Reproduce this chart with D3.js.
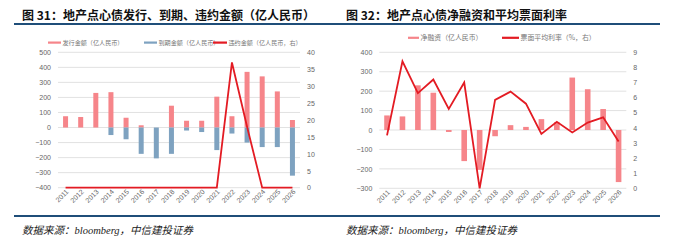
<!DOCTYPE html>
<html>
<head>
<meta charset="utf-8">
<script src="https://cdn.jsdelivr.net/npm/d3@7"></script>
<style>
  html, body { margin: 0; padding: 0; background: #fff; }
  svg { display: block; font-family: "Noto Sans CJK SC", "Noto Sans", sans-serif; }
  .tick text { fill: #666; font-size: 7px; font-family: "Liberation Sans", "Noto Sans", sans-serif; }
</style>
</head>
<body>
<svg id="chart" width="677" height="241"></svg>
<script>
// categories
var years = ["2011", "2012", "2013", "2014", "2015", "2016", "2017", "2018",
  "2019", "2020", "2021", "2022", "2023", "2024", "2025", "2026"];

// fig 31 (亿人民币; default on right axis)
var issuance = [75, 70, 230, 235, 65, 15, 0, 145, 45, 45, 205, 75, 370, 340, 240, 50];
var maturity = [0, 0, 0, -50, -78, -175, -205, -175, -20, -30, -150, -40, -100, -130, -130, -320];
var defaults = [0, 0, 0, 0, 0, 0, 0, 0, 0, 0, 0, 37, 18, 0, 0, 0];
var leftTicks31 = [-400, -300, -200, -100, 0, 100, 200, 300, 400, 500];
var rightTicks31 = [0, 5, 10, 15, 20, 25, 30, 35, 40];

// fig 32 (net financing, coupon rate % on right axis)
var netFinancing = [75, 70, 230, 192, -10, -160, -205, -32, 25, 16, 56, 40, 270, 210, 108, -268];
var couponRate = [3.5, 8.4, 6.3, 7.2, 5.25, 7.0, 0, 5.85, 6.4, 5.6, 3.6, 4.4, 3.7, 4.35, 4.7, 3.1];
var leftTicks32 = [-300, -200, -100, 0, 100, 200, 300, 400];
var rightTicks32 = [0, 1, 2, 3, 4, 5, 6, 7, 8, 9];

var PINK = "#f6858a", BLUE = "#7ea2c0", RED = "#e31b23", NAVY = "#1f4e79";

var svg = d3.select("#chart");

// header / footer rules
[24, 216].forEach(function (yy) {
  svg.append("line").attr("x1", 14).attr("x2", 660).attr("y1", yy).attr("y2", yy)
    .attr("stroke", NAVY).attr("stroke-width", 2);
});

function title(x, txt) {
  svg.append("text").attr("x", x).attr("y", 19.5)
    .attr("font-size", 12).attr("font-weight", 700).attr("fill", "#111").text(txt);
}
function source(x) {
  svg.append("text").attr("x", x).attr("y", 234)
    .attr("font-size", 10.5).attr("font-style", "italic").attr("fill", "#222")
    .style("font-family", "'Liberation Serif', 'Noto Sans CJK SC', serif")
    .text("数据来源：bloomberg，中信建投证券");
}

function frame(g, x, yL, yR, lt, rt) {
  var x0 = x.range()[0], x1 = x.range()[1];
  g.selectAll("line.grid").data(lt).join("line").attr("class", "grid")
    .attr("x1", x0).attr("x2", x1)
    .attr("y1", function (d) { return yL(d); }).attr("y2", function (d) { return yL(d); })
    .attr("stroke", "#d9d9d9").attr("stroke-width", 0.8);

  g.append("g").attr("transform", "translate(" + x0 + ",0)")
    .call(d3.axisLeft(yL).tickValues(lt).tickSize(0).tickPadding(7))
    .call(function (a) { a.select(".domain").remove(); });
  g.append("g").attr("transform", "translate(" + x1 + ",0)")
    .call(d3.axisRight(yR).tickValues(rt).tickSize(0).tickPadding(7))
    .call(function (a) { a.select(".domain").remove(); });

  g.append("g").attr("transform", "translate(0," + (yL.range()[0] + 3) + ")")
    .call(d3.axisBottom(x).tickSize(0).tickPadding(0))
    .call(function (a) { a.select(".domain").remove(); })
    .selectAll("text")
    .attr("text-anchor", "end").attr("dy", "0.3em")
    .attr("transform", "translate(2,0) rotate(-45)");
}

function legend(g, items, y, fs) {
  items.forEach(function (it) {
    g.append("rect").attr("x", it.x).attr("y", y - 1).attr("width", it.w).attr("height", 2.2)
      .attr("fill", it.color);
    g.append("text").attr("x", it.x + it.w + 1.5).attr("y", y).attr("dy", "0.35em")
      .attr("font-size", fs).attr("fill", "#777").text(it.label);
  });
}

// ---- Figure 31 ----
title(22, "图 31：地产点心债发行、到期、违约金额（亿人民币）");
source(22);
var g1 = svg.append("g");
var x1 = d3.scaleBand().domain(years).range([58, 300]);
var y1 = d3.scaleLinear().domain([-400, 500]).range([187.7, 52.3]);
var y1r = d3.scaleLinear().domain([0, 40]).range([187.7, 52.3]);
frame(g1, x1, y1, y1r, leftTicks31, rightTicks31);
var bw1 = 5;

g1.selectAll("rect.iss").data(issuance).join("rect").attr("class", "iss")
  .attr("x", function (d, i) { return x1(years[i]) + x1.bandwidth() / 2 - bw1 / 2; })
  .attr("width", bw1)
  .attr("y", function (d) { return y1(Math.max(0, d)); })
  .attr("height", function (d) { return Math.abs(y1(d) - y1(0)); })
  .attr("fill", PINK);
g1.selectAll("rect.mat").data(maturity).join("rect").attr("class", "mat")
  .attr("x", function (d, i) { return x1(years[i]) + x1.bandwidth() / 2 - bw1 / 2; })
  .attr("width", bw1)
  .attr("y", function (d) { return y1(Math.max(0, d)); })
  .attr("height", function (d) { return Math.abs(y1(d) - y1(0)); })
  .attr("fill", BLUE);

g1.append("path").datum(defaults)
  .attr("fill", "none").attr("stroke", RED).attr("stroke-width", 1.8)
  .attr("d", d3.line()
    .x(function (d, i) { return x1(years[i]) + x1.bandwidth() / 2; })
    .y(function (d) { return y1r(d); }));

legend(g1, [
  { x: 48, w: 13, color: PINK, label: "发行金额（亿人民币）" },
  { x: 144, w: 13, color: BLUE, label: "到期金额（亿人民币）" },
  { x: 213, w: 14, color: RED, label: "违约金额（亿人民币，右）" }
], 42.5, 6.1);

// ---- Figure 32 ----
title(346, "图 32：地产点心债净融资和平均票面利率");
source(346);
var g2 = svg.append("g");
var x2 = d3.scaleBand().domain(years).range([379.3, 626.3]);
var y2 = d3.scaleLinear().domain([-300, 400]).range([188.3, 52.3]);
var y2r = d3.scaleLinear().domain([0, 9]).range([188.3, 52.3]);
frame(g2, x2, y2, y2r, leftTicks32, rightTicks32);
var bw2 = 5.6;

g2.selectAll("rect.net").data(netFinancing).join("rect").attr("class", "net")
  .attr("x", function (d, i) { return x2(years[i]) + x2.bandwidth() / 2 - bw2 / 2; })
  .attr("width", bw2)
  .attr("y", function (d) { return y2(Math.max(0, d)); })
  .attr("height", function (d) { return Math.abs(y2(d) - y2(0)); })
  .attr("fill", PINK);

g2.append("path").datum(couponRate)
  .attr("fill", "none").attr("stroke", RED).attr("stroke-width", 1.8)
  .attr("d", d3.line()
    .x(function (d, i) { return x2(years[i]) + x2.bandwidth() / 2; })
    .y(function (d) { return y2r(d); }));

legend(g2, [
  { x: 408, w: 11, color: PINK, label: "净融资（亿人民币）" },
  { x: 502, w: 17, color: RED, label: "票面平均利率（%，右）" }
], 37.7, 6.9);
</script>
</body>
</html>
